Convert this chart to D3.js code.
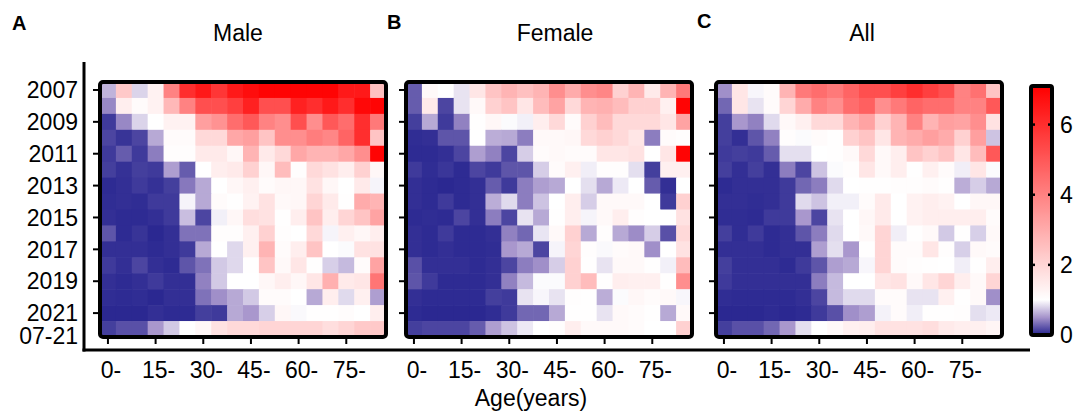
<!DOCTYPE html>
<meta charset="utf-8">
<html>
<head>
<title>Heatmap by sex</title>
<script src="https://d3js.org/d3.v7.min.js"></script>
<style>
  html, body { margin: 0; padding: 0; background: #fff; }
  svg text { font-family: "Liberation Sans", Arial, sans-serif; fill: #000; }
</style>
</head>
<body>
<div id="chart"></div>
<script>
// rows and columns
var years = ["2007","2008","2009","2010","2011","2012","2013","2014","2015","2016","2017","2018","2019","2020","2021","07-21"];
var ages = ["0-","5-","10-","15-","20-","25-","30-","35-","40-","45-","50-","55-","60-","65-","70-","75-","80-","85+"];
var yearTicks = ["2007","2009","2011","2013","2015","2017","2019","2021"];
var yearLabels = ["2007","2009","2011","2013","2015","2017","2019","2021","07-21"];
var ageTicks = ["0-","15-","30-","45-","60-","75-"];
var legendTicks = [0, 2, 4, 6];

// values (rows = years, cols = age groups)
var male = [
[0.65,2.3,0.8,1.3,4.0,6.0,6.5,5.8,6.5,6.8,7.0,7.0,7.0,7.0,7.0,6.5,6.5,2.5],
[0.45,1.4,1.1,1.3,2.7,4.0,5.2,5.2,5.6,6.3,5.2,5.2,6.3,6.0,6.5,6.0,6.9,7.0],
[0.1,0.45,0.8,1.0,1.3,1.3,3.3,3.6,4.5,5.0,4.0,3.7,5.2,3.7,5.0,4.5,6.0,4.2],
[0.15,0.07,0.15,0.6,1.1,1.1,1.9,1.9,3.1,3.3,2.4,3.7,3.7,4.1,3.9,4.7,6.0,2.4],
[0.1,0.25,0.1,0.4,1.05,1.05,1.5,1.5,1.2,2.8,1.5,1.9,3.1,2.8,2.8,3.1,3.7,7.0],
[0.12,0.06,0.12,0.1,0.55,0.25,1.0,1.4,1.5,2.1,1.2,2.6,1.05,1.9,1.7,1.4,2.1,1.2],
[0.03,0.05,0.1,0.06,0.12,0.38,0.6,1.0,1.2,1.35,1.1,1.2,1.2,1.7,1.2,1.0,1.5,0.95],
[0.04,0.05,0.04,0.1,0.1,0.95,0.6,1.1,1.02,1.3,1.7,1.15,1.2,2.0,1.5,1.02,3.0,2.8],
[0.05,0.03,0.03,0.05,0.1,0.7,0.15,0.93,1.2,1.8,1.7,1.02,1.4,2.4,1.4,2.0,2.4,3.2],
[0.22,0.03,0.07,0.02,0.05,0.35,0.35,1.05,1.05,1.35,2.1,1.05,1.0,1.9,0.95,1.35,1.2,1.4],
[0.05,0.05,0.05,0.03,0.05,0.1,0.6,1.0,0.82,1.35,2.8,1.1,1.4,2.4,1.0,0.98,1.7,1.7],
[0.1,0.05,0.15,0.05,0.03,0.22,0.35,0.75,0.82,1.02,2.4,1.15,1.6,1.02,0.78,0.68,1.1,3.2],
[0.05,0.03,0.05,0.1,0.05,0.05,0.42,0.75,1.0,1.0,1.2,1.4,1.2,1.6,2.9,1.5,1.6,4.3],
[0.04,0.03,0.04,0.02,0.05,0.05,0.35,0.48,0.6,0.75,1.1,1.1,1.0,0.6,1.4,0.83,1.35,0.55],
[0.02,0.02,0.02,0.05,0.03,0.03,0.12,0.1,0.6,0.52,0.78,1.2,0.97,1.02,1.02,1.08,1.0,1.4],
[0.12,0.2,0.2,0.52,0.75,1.0,1.2,1.7,1.9,1.9,2.0,2.0,2.0,2.0,1.8,2.0,2.3,2.3]
];
var female = [
[0.25,1.15,1.0,0.87,1.6,2.4,2.8,2.5,2.8,3.7,3.0,3.7,3.9,2.1,2.8,1.5,2.8,4.2],
[0.25,1.5,0.15,0.87,1.15,2.1,2.4,1.6,2.6,3.2,1.9,2.8,2.9,2.6,2.1,2.1,1.35,7.0],
[0.12,0.6,0.1,0.42,1.02,1.2,0.98,0.93,1.4,1.9,1.1,2.1,2.6,1.9,1.9,1.9,1.6,3.2],
[0.04,0.05,0.22,0.22,1.0,0.62,0.6,0.4,1.15,1.15,1.2,1.9,2.1,1.9,1.6,0.4,1.1,1.05],
[0.03,0.03,0.05,0.15,0.55,0.42,0.15,0.77,1.1,1.15,1.1,1.1,1.6,1.6,1.7,1.0,1.6,7.0],
[0.1,0.04,0.08,0.03,0.15,0.1,0.22,0.22,0.77,1.1,1.35,0.92,1.05,1.05,0.85,0.12,1.35,1.35],
[0.05,0.03,0.02,0.03,0.05,0.25,0.1,0.4,0.55,0.6,1.0,0.85,0.6,0.9,1.0,0.25,0.05,1.0],
[0.05,0.03,0.1,0.03,0.05,0.62,0.83,0.4,0.72,1.0,1.4,0.77,1.15,1.15,1.15,1.0,0.1,2.1],
[0.03,0.04,0.03,0.15,0.05,0.4,0.15,0.87,0.6,1.02,1.4,0.95,1.15,1.4,1.05,1.0,1.0,1.7],
[0.05,0.03,0.1,0.03,0.03,0.05,0.42,0.3,0.88,1.15,2.1,0.6,1.05,0.6,0.47,0.77,0.2,1.9],
[0.05,0.03,0.05,0.03,0.03,0.04,0.52,0.6,0.15,0.95,2.0,1.05,0.97,1.1,1.15,0.48,1.0,1.7],
[0.2,0.05,0.05,0.05,0.03,0.05,0.15,0.4,0.48,0.77,2.1,1.02,0.87,1.15,1.15,1.02,0.93,2.6],
[0.22,0.1,0.03,0.03,0.03,0.05,0.42,0.68,0.98,0.98,2.1,2.6,1.02,1.4,1.35,1.35,1.02,3.7],
[0.05,0.03,0.03,0.03,0.03,0.12,0.1,0.87,0.96,0.87,1.05,1.02,0.62,0.98,1.2,1.1,1.15,0.96],
[0.03,0.02,0.02,0.02,0.02,0.04,0.1,0.3,0.3,0.6,1.02,1.02,0.87,1.15,1.1,1.02,0.6,1.15],
[0.12,0.15,0.15,0.15,0.25,0.55,0.72,0.9,1.0,1.05,1.4,1.15,1.15,1.15,1.1,1.0,1.0,2.1]
];
var all = [
[0.48,1.6,0.96,1.1,2.8,4.2,4.5,4.2,4.7,5.2,5.2,5.6,6.0,5.6,5.2,4.0,4.4,2.4],
[0.3,1.6,0.87,1.1,2.0,3.0,4.0,3.7,4.5,4.8,3.7,4.2,4.7,4.5,4.5,4.0,4.0,5.0],
[0.12,0.52,0.42,0.83,1.15,1.35,1.9,1.9,2.8,3.2,2.1,2.8,4.0,2.8,3.3,3.2,3.7,1.7],
[0.12,0.05,0.22,0.42,1.05,0.98,1.1,1.02,2.1,2.4,1.6,2.8,3.0,3.3,3.0,2.1,3.3,0.72],
[0.1,0.12,0.1,0.25,0.85,0.85,1.0,1.02,1.15,1.9,1.15,1.4,2.4,2.1,2.4,1.6,2.6,5.0],
[0.12,0.05,0.12,0.05,0.4,0.15,0.72,0.98,1.05,1.6,1.15,1.4,1.02,1.35,1.1,0.92,1.6,0.98],
[0.03,0.05,0.05,0.05,0.1,0.3,0.4,0.83,1.0,1.02,1.02,1.05,1.05,1.1,1.02,0.62,0.77,0.6],
[0.05,0.05,0.04,0.05,0.1,0.83,0.72,0.93,0.93,1.1,1.5,1.0,1.3,1.4,1.3,1.0,1.2,1.2],
[0.04,0.04,0.03,0.1,0.1,0.52,0.15,0.87,1.0,1.2,1.5,1.0,1.3,1.4,1.4,1.4,1.4,1.1],
[0.12,0.04,0.1,0.03,0.05,0.22,0.4,0.83,1.0,1.15,2.0,0.92,1.02,1.15,0.75,1.02,0.78,1.15],
[0.05,0.05,0.05,0.03,0.05,0.05,0.55,0.85,0.52,1.02,2.0,1.1,1.1,1.6,1.05,0.78,1.15,1.1],
[0.12,0.05,0.05,0.05,0.03,0.1,0.22,0.55,0.6,0.96,2.0,1.1,1.05,1.02,1.0,0.92,1.02,1.4],
[0.1,0.05,0.05,0.05,0.05,0.05,0.4,0.68,1.0,1.0,1.6,1.7,1.15,1.6,2.0,1.4,1.15,2.0],
[0.04,0.03,0.03,0.03,0.03,0.05,0.15,0.68,0.83,0.83,1.1,1.1,0.87,0.87,1.35,1.02,1.15,0.48],
[0.02,0.02,0.02,0.03,0.02,0.03,0.1,0.2,0.48,0.55,0.94,1.1,0.92,1.02,1.02,1.05,0.85,0.9],
[0.12,0.2,0.2,0.3,0.52,0.85,1.0,1.15,1.35,1.4,1.7,1.7,1.7,1.8,1.5,1.4,1.35,1.25]
];

var width = 1075, height = 414;
var gridTop = 82, gridBottom = 337;

var svg = d3.select("#chart").append("svg")
    .attr("width", width)
    .attr("height", height);

// colour: navy -> lavender -> white at 1 -> red
var color = d3.scaleLinear()
    .domain([0, 0.5, 1, 7.1])
    .range(["#26248f", "#a593cb", "#ffffff", "#ff0000"])
    .clamp(true);

var y = d3.scaleBand().domain(years).range([gridTop, gridBottom]);

var panels = [
  {title: "Male",   letter: "A", data: male,   x0: 100, x1: 386, tx: 238, lx: 12,  ly: 30},
  {title: "Female", letter: "B", data: female, x0: 406, x1: 692, tx: 555, lx: 387, ly: 29},
  {title: "All",    letter: "C", data: all,    x0: 716, x1: 1002, tx: 862, lx: 697, ly: 28}
];

panels.forEach(function(p) {
  var x = d3.scaleBand().domain(ages).range([p.x0, p.x1]);
  var g = svg.append("g");

  var cells = [];
  p.data.forEach(function(row, i) {
    row.forEach(function(v, j) { cells.push({year: years[i], age: ages[j], v: v}); });
  });

  g.selectAll("rect.cell")
    .data(cells)
    .enter().append("rect")
      .attr("class", "cell")
      .attr("x", function(d) { return x(d.age); })
      .attr("y", function(d) { return y(d.year); })
      .attr("width", x.bandwidth() + 0.6)
      .attr("height", y.bandwidth() + 0.6)
      .attr("fill", function(d) { return color(d.v); });

  // frame
  g.append("rect")
    .attr("x", p.x0).attr("y", gridTop)
    .attr("width", p.x1 - p.x0).attr("height", gridBottom - gridTop)
    .attr("rx", 3)
    .attr("fill", "none").attr("stroke", "#000").attr("stroke-width", 4);

  // year ticks on the left
  g.selectAll("line.yt")
    .data(yearTicks)
    .enter().append("line")
      .attr("x1", p.x0 - 7).attr("x2", p.x0 - 2)
      .attr("y1", function(d) { return y(d) + y.bandwidth() / 2; })
      .attr("y2", function(d) { return y(d) + y.bandwidth() / 2; })
      .attr("stroke", "#000").attr("stroke-width", 2);

  // age ticks below
  g.selectAll("line.xt")
    .data(ageTicks)
    .enter().append("line")
      .attr("x1", function(d) { return x(d) + x.bandwidth() / 2; })
      .attr("x2", function(d) { return x(d) + x.bandwidth() / 2; })
      .attr("y1", gridBottom + 2).attr("y2", gridBottom + 7)
      .attr("stroke", "#000").attr("stroke-width", 2);

  g.selectAll("text.xl")
    .data(ageTicks)
    .enter().append("text")
      .attr("x", function(d) { return x(d) + x.bandwidth() / 2 + 3; })
      .attr("y", 378)
      .attr("text-anchor", "middle")
      .style("font-size", "23px")
      .text(function(d) { return d; });

  g.append("text")
    .attr("x", p.tx).attr("y", 41)
    .attr("text-anchor", "middle")
    .style("font-size", "23px")
    .text(p.title);

  g.append("text")
    .attr("x", p.lx).attr("y", p.ly)
    .style("font-size", "20px").style("font-weight", "bold")
    .text(p.letter);
});

// year labels (the pooled row sits a little lower, as in the figure)
svg.selectAll("text.yl")
  .data(yearLabels)
  .enter().append("text")
    .attr("x", 78)
    .attr("y", function(d) { return y(d) + y.bandwidth() / 2 + (d === "07-21" ? 7 : 0); })
    .attr("dy", "0.36em")
    .attr("text-anchor", "end")
    .style("font-size", "23px")
    .text(function(d) { return d; });

// outer axis lines
svg.append("line")
  .attr("x1", 84).attr("x2", 84).attr("y1", 62).attr("y2", 351.5)
  .attr("stroke", "#000").attr("stroke-width", 3);
svg.append("line")
  .attr("x1", 82.5).attr("x2", 1030).attr("y1", 350).attr("y2", 350)
  .attr("stroke", "#000").attr("stroke-width", 3);

svg.append("text")
  .attr("x", 531).attr("y", 406)
  .attr("text-anchor", "middle")
  .style("font-size", "23px")
  .text("Age(years)");

// colour bar
var ly = d3.scaleLinear().domain([0, 7.1]).range([335, 86]);
var defs = svg.append("defs");
var grad = defs.append("linearGradient")
    .attr("id", "cbar")
    .attr("x1", 0).attr("y1", 1).attr("x2", 0).attr("y2", 0);
d3.range(0, 7.11, 0.1).forEach(function(v) {
  grad.append("stop")
    .attr("offset", (v / 7.1 * 100) + "%")
    .attr("stop-color", color(v));
});
var cbx = 1031, cbw = 21;
svg.append("rect")
  .attr("x", cbx).attr("y", ly(7.1))
  .attr("width", cbw).attr("height", ly(0) - ly(7.1))
  .attr("fill", "url(#cbar)");
svg.selectAll("g.lt")
  .data(legendTicks.filter(function(d) { return d > 0; }))
  .enter().append("g")
  .each(function(d) {
    d3.select(this).append("line")
      .attr("x1", cbx).attr("x2", cbx + 4).attr("y1", ly(d)).attr("y2", ly(d))
      .attr("stroke", "#000").attr("stroke-width", 2.5);
    d3.select(this).append("line")
      .attr("x1", cbx + cbw - 4).attr("x2", cbx + cbw).attr("y1", ly(d)).attr("y2", ly(d))
      .attr("stroke", "#000").attr("stroke-width", 2.5);
  });
svg.append("rect")
  .attr("x", cbx).attr("y", ly(7.1))
  .attr("width", cbw).attr("height", ly(0) - ly(7.1))
  .attr("rx", 2)
  .attr("fill", "none").attr("stroke", "#000").attr("stroke-width", 4);
svg.selectAll("text.lg")
  .data(legendTicks)
  .enter().append("text")
    .attr("x", 1060)
    .attr("y", function(d) { return ly(d); })
    .attr("dy", "0.36em")
    .style("font-size", "23px")
    .text(function(d) { return d; });
</script>
</body>
</html>
